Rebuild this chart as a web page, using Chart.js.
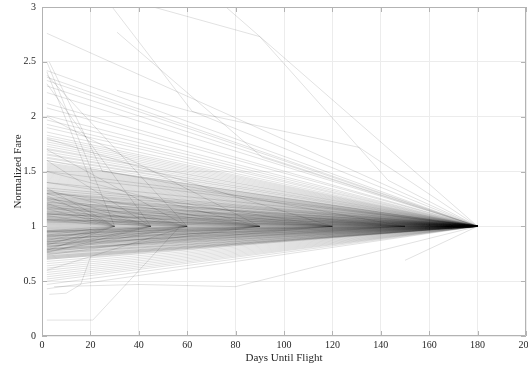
<!DOCTYPE html>
<html>
<head>
<meta charset="utf-8">
<title>Normalized Fare</title>
<script src="https://cdn.jsdelivr.net/npm/chart.js@4.4.1/dist/chart.umd.min.js"></script>
<style>
    html, body { margin: 0; padding: 0; background: #fff; overflow: hidden; }
    #wrap { width: 540px; height: 366px; }
</style>
</head>
<body>
<div id="wrap"><canvas id="fareChart" width="540" height="366"></canvas></div>
<script>
// Dia en que empieza cada ruta y punto comun de llegada
const startDay = 2;
const endDay = 180;
const endFare = 1;

// Tarifas en el dia 2 de las rutas que van directas al dia 180
const directFares = [
    2.76, 2.42, 2.36, 2.33, 2.28, 2.22, 2.12, 2.08, 2.01, 1.97, 1.93, 1.90, 1.86, 1.83, 1.81,
    1.79, 1.77, 1.75, 1.73, 1.71, 1.70, 1.68, 1.66, 1.65, 1.63, 1.62, 1.60, 1.58, 1.57, 1.56,
    1.55, 1.54, 1.53, 1.52, 1.51, 1.50, 1.50,
    1.49, 1.48, 1.47, 1.46, 1.45, 1.44, 1.43, 1.42, 1.41, 1.40, 1.40, 1.39, 1.38, 1.37, 1.36,
    1.35, 1.35, 1.34, 1.33, 1.33, 1.32, 1.31, 1.31, 1.30, 1.30, 1.29, 1.28, 1.27, 1.27, 1.26,
    1.26, 1.25, 1.25, 1.24, 1.24, 1.23, 1.22, 1.22, 1.21, 1.21, 1.20, 1.20, 1.19, 1.19, 1.18,
    1.18, 1.17, 1.17, 1.16, 1.16, 1.15, 1.15, 1.14, 1.14, 1.13, 1.13, 1.12, 1.12, 1.115, 1.11,
    1.105, 1.10, 1.095, 1.09, 1.085, 1.08, 1.075, 1.07, 1.065, 1.06,
    1.055, 1.05, 1.045, 1.04, 1.035, 1.03, 1.025, 1.02, 1.015, 1.01, 1.005,
    0.995, 0.99, 0.985, 0.98, 0.975, 0.97, 0.965, 0.96, 0.955, 0.95, 0.945, 0.94, 0.935,
    0.93, 0.925, 0.92, 0.915, 0.91, 0.905, 0.90, 0.895, 0.89, 0.885,
    0.88, 0.875, 0.87, 0.865, 0.86, 0.855, 0.85, 0.845, 0.84, 0.835, 0.83, 0.825, 0.82, 0.815, 0.81,
    0.80, 0.80, 0.79, 0.79, 0.78, 0.78, 0.77, 0.76, 0.76, 0.75, 0.75, 0.74, 0.73, 0.73, 0.72,
    0.72, 0.71, 0.71, 0.70, 0.70,
    0.68, 0.66, 0.64, 0.62, 0.60, 0.58, 0.56, 0.54, 0.52, 0.50, 0.47, 0.43
];

// Rutas con menos historial: terminan en 1 el dia mas lejano que tienen
const shortDays = [30, 45, 60, 90, 120, 150];
const shortFares = [
    [2.50, 1.35, 1.28, 1.21, 1.16, 1.10, 1.06, 0.96, 0.92, 0.87, 0.83, 0.78],
    [2.30, 1.60, 1.30, 1.24, 1.18, 1.12, 1.07, 0.95, 0.90, 0.85, 0.80, 0.76],
    [2.38, 1.70, 1.33, 1.26, 1.19, 1.13, 1.08, 1.04, 0.95, 0.91, 0.86, 0.81, 0.77, 0.60],
    [2.00, 1.50, 1.32, 1.25, 1.20, 1.14, 1.09, 1.05, 0.96, 0.92, 0.88, 0.84, 0.79, 0.74],
    [1.80, 1.40, 1.29, 1.22, 1.16, 1.11, 1.06, 0.95, 0.91, 0.86, 0.82, 0.77],
    [1.60, 1.30, 1.23, 1.17, 1.11, 1.06, 0.94, 0.89, 0.84, 0.79]
];

// Rutas irregulares, punto por punto [dia, tarifa]
const oddRoutes = [
    [[2, 0.145], [21, 0.145], [57, 1]],
    [[3, 0.38], [10, 0.39], [16, 0.47], [20, 0.72], [180, 1]],
    [[5, 0.45], [40, 0.47], [80, 0.45], [180, 1]],
    [[29, 3.0], [62, 2.05], [180, 1]],
    [[31, 2.77], [91, 1.63], [180, 1]],
    [[46, 3.0], [90, 2.73], [143, 1.42], [180, 1]],
    [[76, 3.0], [180, 1]],
    [[31, 2.24], [61, 2.05], [131, 1.72], [180, 1]],
    [[3, 2.5], [25, 1.5], [180, 1]],
    [[2, 2.41], [20, 1.42], [180, 1]],
    [[150, 0.69], [180, 1]]
];

// Marcas de los ejes
const xTicks = [0, 20, 40, 60, 80, 100, 120, 140, 160, 180, 200];
const yTicks = [0, 0.5, 1, 1.5, 2, 2.5, 3];

const lineColor = 'rgba(0, 0, 0, 0.15)';
const boxColor = '#b3b3b3';
const fontFamily = "'Liberation Serif', 'Times New Roman', serif";

function buildDatasets() {
    const datasets = [];

    const addRoute = points => {
        datasets.push({
            data: points.map(p => ({ x: p[0], y: p[1] })),
            borderColor: lineColor,
            borderWidth: 0.8,
            pointRadius: 0,
            fill: false,
            tension: 0
        });
    };

    directFares.forEach(fare => {
        addRoute([[startDay, fare], [endDay, endFare]]);
    });

    shortDays.forEach((day, i) => {
        shortFares[i].forEach(fare => {
            addRoute([[startDay, fare], [day, endFare]]);
        });
    });

    oddRoutes.forEach(route => addRoute(route));

    return datasets;
}

// Caja completa y marcas hacia dentro, estilo MATLAB
const boxPlugin = {
    id: 'boxPlugin',
    afterDatasetsDraw(chart) {
        const { ctx, chartArea: a, scales } = chart;
        const len = 5;
        ctx.save();
        ctx.strokeStyle = boxColor;
        ctx.lineWidth = 1;
        ctx.beginPath();
        ctx.rect(a.left + 0.5, a.top + 0.5, a.right - a.left - 1, a.bottom - a.top - 1);
        xTicks.forEach(v => {
            const px = Math.round(scales.x.getPixelForValue(v)) + 0.5;
            ctx.moveTo(px, a.bottom);
            ctx.lineTo(px, a.bottom - len);
            ctx.moveTo(px, a.top);
            ctx.lineTo(px, a.top + len);
        });
        yTicks.forEach(v => {
            const py = Math.round(scales.y.getPixelForValue(v)) + 0.5;
            ctx.moveTo(a.left, py);
            ctx.lineTo(a.left + len, py);
            ctx.moveTo(a.right, py);
            ctx.lineTo(a.right - len, py);
        });
        ctx.stroke();
        ctx.restore();
    }
};

function initChart() {
    const ctx = document.getElementById('fareChart').getContext('2d');
    new Chart(ctx, {
        type: 'line',
        data: { datasets: buildDatasets() },
        options: {
            responsive: false,
            animation: false,
            events: [],
            layout: { padding: { top: 7, right: 14, left: 0, bottom: 0 } },
            plugins: {
                legend: { display: false },
                tooltip: { enabled: false }
            },
            scales: {
                x: {
                    type: 'linear',
                    min: 0,
                    max: 200,
                    afterBuildTicks: scale => {
                        scale.ticks = xTicks.map(v => ({ value: v }));
                    },
                    afterFit: scale => {
                        scale.height = 30;
                        scale.paddingLeft = 0;
                        scale.paddingRight = 0;
                    },
                    ticks: {
                        font: { family: fontFamily, size: 10 },
                        color: '#262626',
                        padding: 3,
                        maxRotation: 0
                    },
                    grid: { color: '#ececec', drawTicks: false },
                    border: { display: false },
                    title: {
                        display: true,
                        text: 'Days Until Flight',
                        font: { family: fontFamily, size: 11 },
                        color: '#262626',
                        padding: { top: 0, bottom: 1 }
                    }
                },
                y: {
                    type: 'linear',
                    min: 0,
                    max: 3,
                    afterBuildTicks: scale => {
                        scale.ticks = yTicks.map(v => ({ value: v }));
                    },
                    afterFit: scale => {
                        scale.width = 42;
                        scale.paddingTop = 0;
                        scale.paddingBottom = 0;
                    },
                    ticks: {
                        font: { family: fontFamily, size: 10 },
                        color: '#262626',
                        padding: 6,
                        callback: v => String(v)
                    },
                    grid: { color: '#ececec', drawTicks: false },
                    border: { display: false },
                    title: {
                        display: true,
                        text: 'Normalized Fare',
                        font: { family: fontFamily, size: 11 },
                        color: '#262626',
                        padding: { top: 12, bottom: 0 }
                    }
                }
            }
        },
        plugins: [boxPlugin]
    });
}

document.addEventListener('DOMContentLoaded', function() {
    initChart();
});
</script>
</body>
</html>
